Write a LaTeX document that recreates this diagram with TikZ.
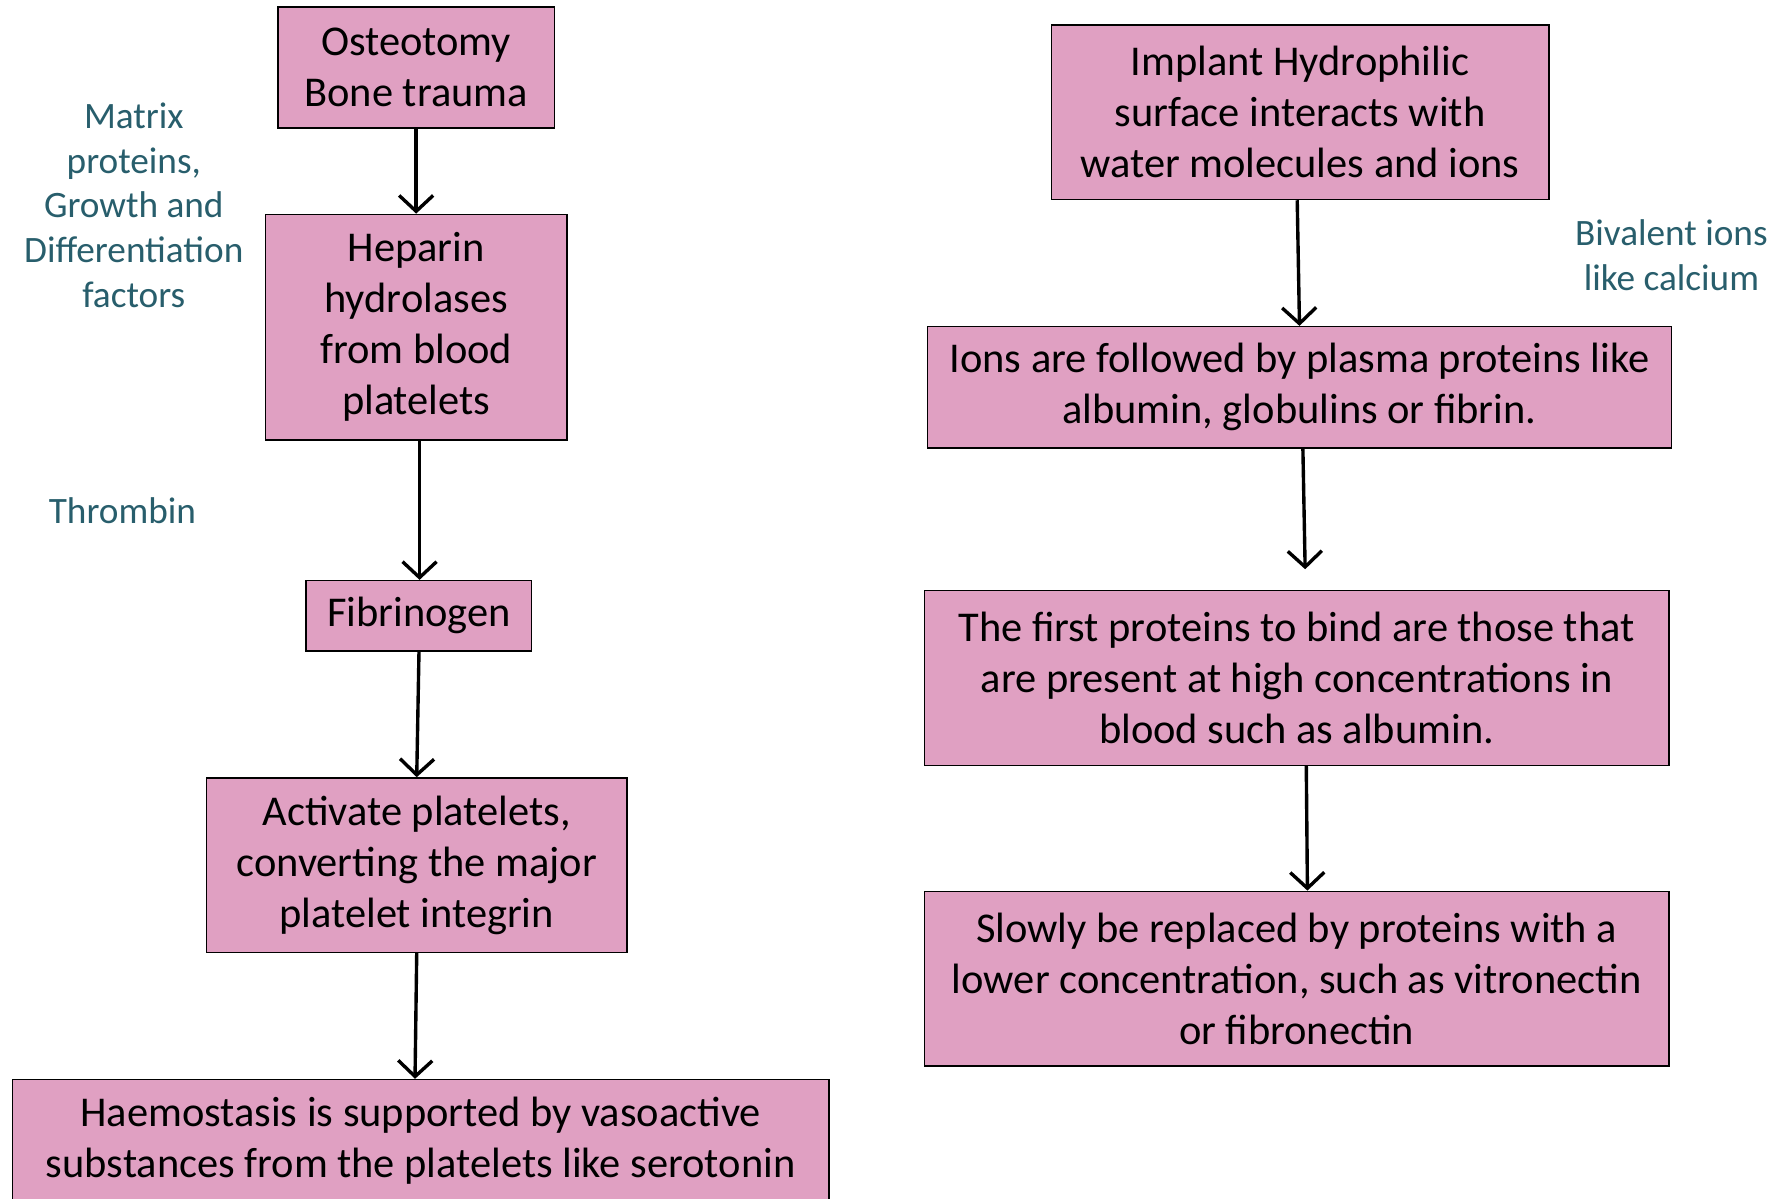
\documentclass[tikz,border=0pt]{standalone}
\usepackage{fontspec}
\setmainfont{Carlito}
\usetikzlibrary{positioning, arrows.meta}
\definecolor{boxpink}{RGB}{224,160,194}
\definecolor{labelteal}{RGB}{40,94,108}

\begin{document}
\begin{tikzpicture}[
            x=0.02cm, y=-0.02cm,
            box/.style={draw, line width=0.7pt, align=center, inner sep=0pt, fill=boxpink, font=\fontsize{21.3}{25.6}\selectfont},
            note/.style={align=center, inner sep=0pt, text=labelteal, font=\fontsize{18.7}{22.4}\selectfont},
            arrow/.style={-{Straight Barb[length=2.8mm, width=6mm, line width=1.7pt]}, line width=1.7pt}
        ]
            \useasboundingbox[fill=white] (0,0) rectangle (1568,1057);
            % left column
            \node[box, minimum width=4.88cm, minimum height=2.14cm] (osteo) at (367,59.5) {Osteotomy\\Bone trauma};
            \node[box, minimum width=5.32cm, minimum height=3.98cm] (heparin) at (367,288.5) {Heparin\\hydrolases\\from blood\\platelets};
            \node[box, minimum width=3.98cm, minimum height=1.24cm] (fibrin) at (369.5,543) {Fibrinogen};
            \node[box, minimum width=7.42cm, minimum height=3.08cm] (activate) at (367.5,763) {Activate platelets,\\converting the major\\platelet integrin};
            \node[box, minimum width=14.40cm, minimum height=2.16cm] (haemo) at (371,1006) {Haemostasis is supported by vasoactive\\substances from the platelets like serotonin};
            % right column
            \node[box, minimum width=8.78cm, minimum height=3.08cm] (implant) at (1146.5,99) {Implant Hydrophilic\\surface interacts with\\water molecules and ions};
            \node[box, minimum width=13.12cm, minimum height=2.14cm] (ions) at (1146,341.5) {Ions are followed by plasma proteins like\\albumin, globulins or fibrin.};
            \node[box, minimum width=13.14cm, minimum height=3.08cm] (first) at (1143.5,598) {The first proteins to bind are those that\\are present at high concentrations in\\blood such as albumin.};
            \node[box, minimum width=13.14cm, minimum height=3.08cm] (slowly) at (1143.5,863) {Slowly be replaced by proteins with a\\lower concentration, such as vitronectin\\or fibronectin};
            \coordinate (gap) at (1151,502);
            % side notes
            \node[note] (matrix) at (118,181) {Matrix\\proteins,\\Growth and\\Differentiation\\factors};
            \node[note] (thrombin) at (108,450) {Thrombin};
            \node[note] (bivalent) at (1474,225) {Bivalent ions\\like calcium};
            % arrows
            \draw[arrow] (osteo) -- (heparin);
            \draw[arrow] ([xshift=0.06cm]heparin.south) -- ([xshift=0.06cm]fibrin.north -| heparin.south);
            \draw[arrow] (fibrin.south) -- (activate.north);
            \draw[arrow] (activate.south) -- ([xshift=-0.1cm]haemo.north);
            \draw[arrow] ([xshift=-0.05cm]implant.south) -- (ions.north);
            \draw[arrow] ([xshift=0.06cm]ions.south) -- (gap);
            \draw[arrow] ([xshift=0.17cm]first.south) -- ([xshift=0.19cm]slowly.north);
        \end{tikzpicture}
\end{document}
